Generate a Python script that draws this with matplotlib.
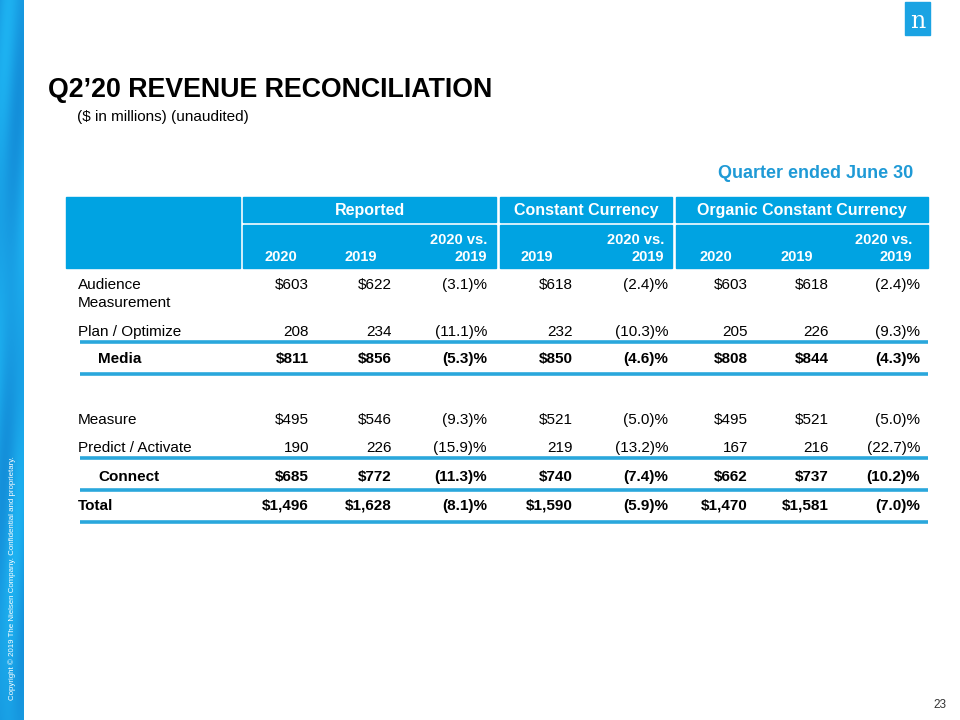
import numpy as np
import matplotlib
matplotlib.use("Agg")
import matplotlib.pyplot as plt
from matplotlib import font_manager as fm
from matplotlib.patches import Rectangle

# table data (Q2 2020, $ in millions)
rows = ["Audience\nMeasurement", "Plan / Optimize", "Media",
        "Measure", "Predict / Activate", "Connect", "Total"]
rep_2020 = [603, 208, 811, 495, 190, 685, 1496]
rep_2019 = [622, 234, 856, 546, 226, 772, 1628]
rep_chg = [-3.1, -11.1, -5.3, -9.3, -15.9, -11.3, -8.1]
cc_2019 = [618, 232, 850, 521, 219, 740, 1590]
cc_chg = [-2.4, -10.3, -4.6, -5.0, -13.2, -7.4, -5.9]
org_2020 = [603, 205, 808, 495, 167, 662, 1470]
org_2019 = [618, 226, 844, 521, 216, 737, 1581]
org_chg = [-2.4, -9.3, -4.3, -5.0, -22.7, -10.2, -7.0]
groups = ["Reported", "Constant Currency", "Organic Constant Currency"]
sub_heads = ["2020", "2019", "2020 vs.\n2019", "2019", "2020 vs.\n2019",
             "2020", "2019", "2020 vs.\n2019"]

bold_rows = [2, 5, 6]
dollar_rows = [0, 2, 3, 5, 6]
indent_rows = [2, 5]

names = {f.name for f in fm.fontManager.ttflist}
narrow = "Liberation Sans Narrow" if "Liberation Sans Narrow" in names else "Liberation Sans"
base = "Liberation Sans"

BLUE = "#00a3e2"
LINE = "#2aa7dc"
FS = 11

fig = plt.figure(figsize=(9.6, 7.2), dpi=100)
ax = fig.add_axes([0, 0, 1, 1])
ax.set_xlim(0, 960)
ax.set_ylim(720, 0)
ax.axis("off")

# left decorative strip
yy = np.linspace(0, 1, 720)[:, None]
xx = np.linspace(0, 1, 24)[None, :]
shade = 0.6 + 0.22 * np.sin(yy * 11 + xx * 4) * np.cos(yy * 5 - xx)
strip = np.zeros((720, 24, 3))
strip[..., 0] = 0.05 + 0.08 * shade
strip[..., 1] = 0.45 + 0.3 * shade
strip[..., 2] = 0.78 + 0.2 * shade
ax.imshow(np.clip(strip, 0, 1), extent=(0, 24, 720, 0), aspect="auto", zorder=0)
ax.text(12, 700, "Copyright © 2019 The Nielsen Company. Confidential and proprietary.",
        rotation=90, color="white", fontsize=5.7, family=narrow, ha="center", va="bottom")

# logo
ax.add_patch(Rectangle((905, 2), 25, 33, color="#1aa3e3", zorder=2))
ax.text(917.5, 21, "n", color="white", fontsize=17, family="DejaVu Serif",
        ha="center", va="center", zorder=3)

# title
ax.text(48, 90, "Q2’20 REVENUE RECONCILIATION", fontsize=19.3, fontweight="bold",
        family=base, ha="left", va="center")
ax.text(77, 117, "($ in millions) (unaudited)", fontsize=11, family=base,
        ha="left", va="center")
ax.text(913, 174, "Quarter ended June 30", fontsize=13, fontweight="bold",
        family=narrow, color="#1f9ad6", ha="right", va="center")

# header blocks
ax.add_patch(Rectangle((66, 197), 174, 71, color=BLUE))
group_spans = [(243, 496), (500, 672), (676, 928)]
for (x0, x1), g in zip(group_spans, groups):
    ax.add_patch(Rectangle((x0, 197), x1 - x0, 25, color=BLUE))
    ax.add_patch(Rectangle((x0, 225), x1 - x0, 43, color=BLUE))
    ax.text((x0 + x1) / 2, 210, g, color="white", fontsize=11.5, fontweight="bold",
            family=narrow, ha="center", va="center")

col_right = [309, 392, 487, 573, 668, 748, 829, 920]
head_right = [297, 377, 487, 553, 664, 732, 813, 912]
for xr, h in zip(head_right, sub_heads):
    ax.text(xr, 261, h, color="white", fontsize=10.5, fontweight="bold",
            family=narrow, ha="right", va="baseline", linespacing=1.3)

row_y = [284, 331, 358, 419, 447, 476, 505]
line_y = [342, 374, 458, 490, 522]
for y in line_y:
    ax.plot([80, 928], [y, y], color=LINE, lw=2.6, solid_capstyle="butt")


def fmt_num(v, dollar):
    s = f"{v:,}"
    return "$" + s if dollar else s


def fmt_pct(v):
    return f"({abs(v):.1f})%" if v < 0 else f"{v:.1f}%"


cols = [rep_2020, rep_2019, rep_chg, cc_2019, cc_chg, org_2020, org_2019, org_chg]
pct_cols = [2, 4, 7]
for i, (label, y) in enumerate(zip(rows, row_y)):
    w = "bold" if i in bold_rows else "normal"
    x_lab = 98 if i in indent_rows else 78
    yb = y + 5
    if "\n" in label:
        top, bottom = label.split("\n")
        ax.text(x_lab, yb, top, fontsize=FS, fontweight=w, family=narrow,
                ha="left", va="baseline")
        ax.text(x_lab, yb + 18, bottom, fontsize=FS, fontweight=w, family=narrow,
                ha="left", va="baseline")
    else:
        ax.text(x_lab, yb, label, fontsize=FS, fontweight=w, family=narrow,
                ha="left", va="baseline")
    for j, (col, xr) in enumerate(zip(cols, col_right)):
        txt = fmt_pct(col[i]) if j in pct_cols else fmt_num(col[i], i in dollar_rows)
        ax.text(xr, yb, txt, fontsize=FS, fontweight=w, family=narrow,
                ha="right", va="baseline")

ax.text(946, 705, "23", fontsize=8.5, family=base, ha="right", va="center", color="#333333")

fig.savefig("out.png", dpi=100)
